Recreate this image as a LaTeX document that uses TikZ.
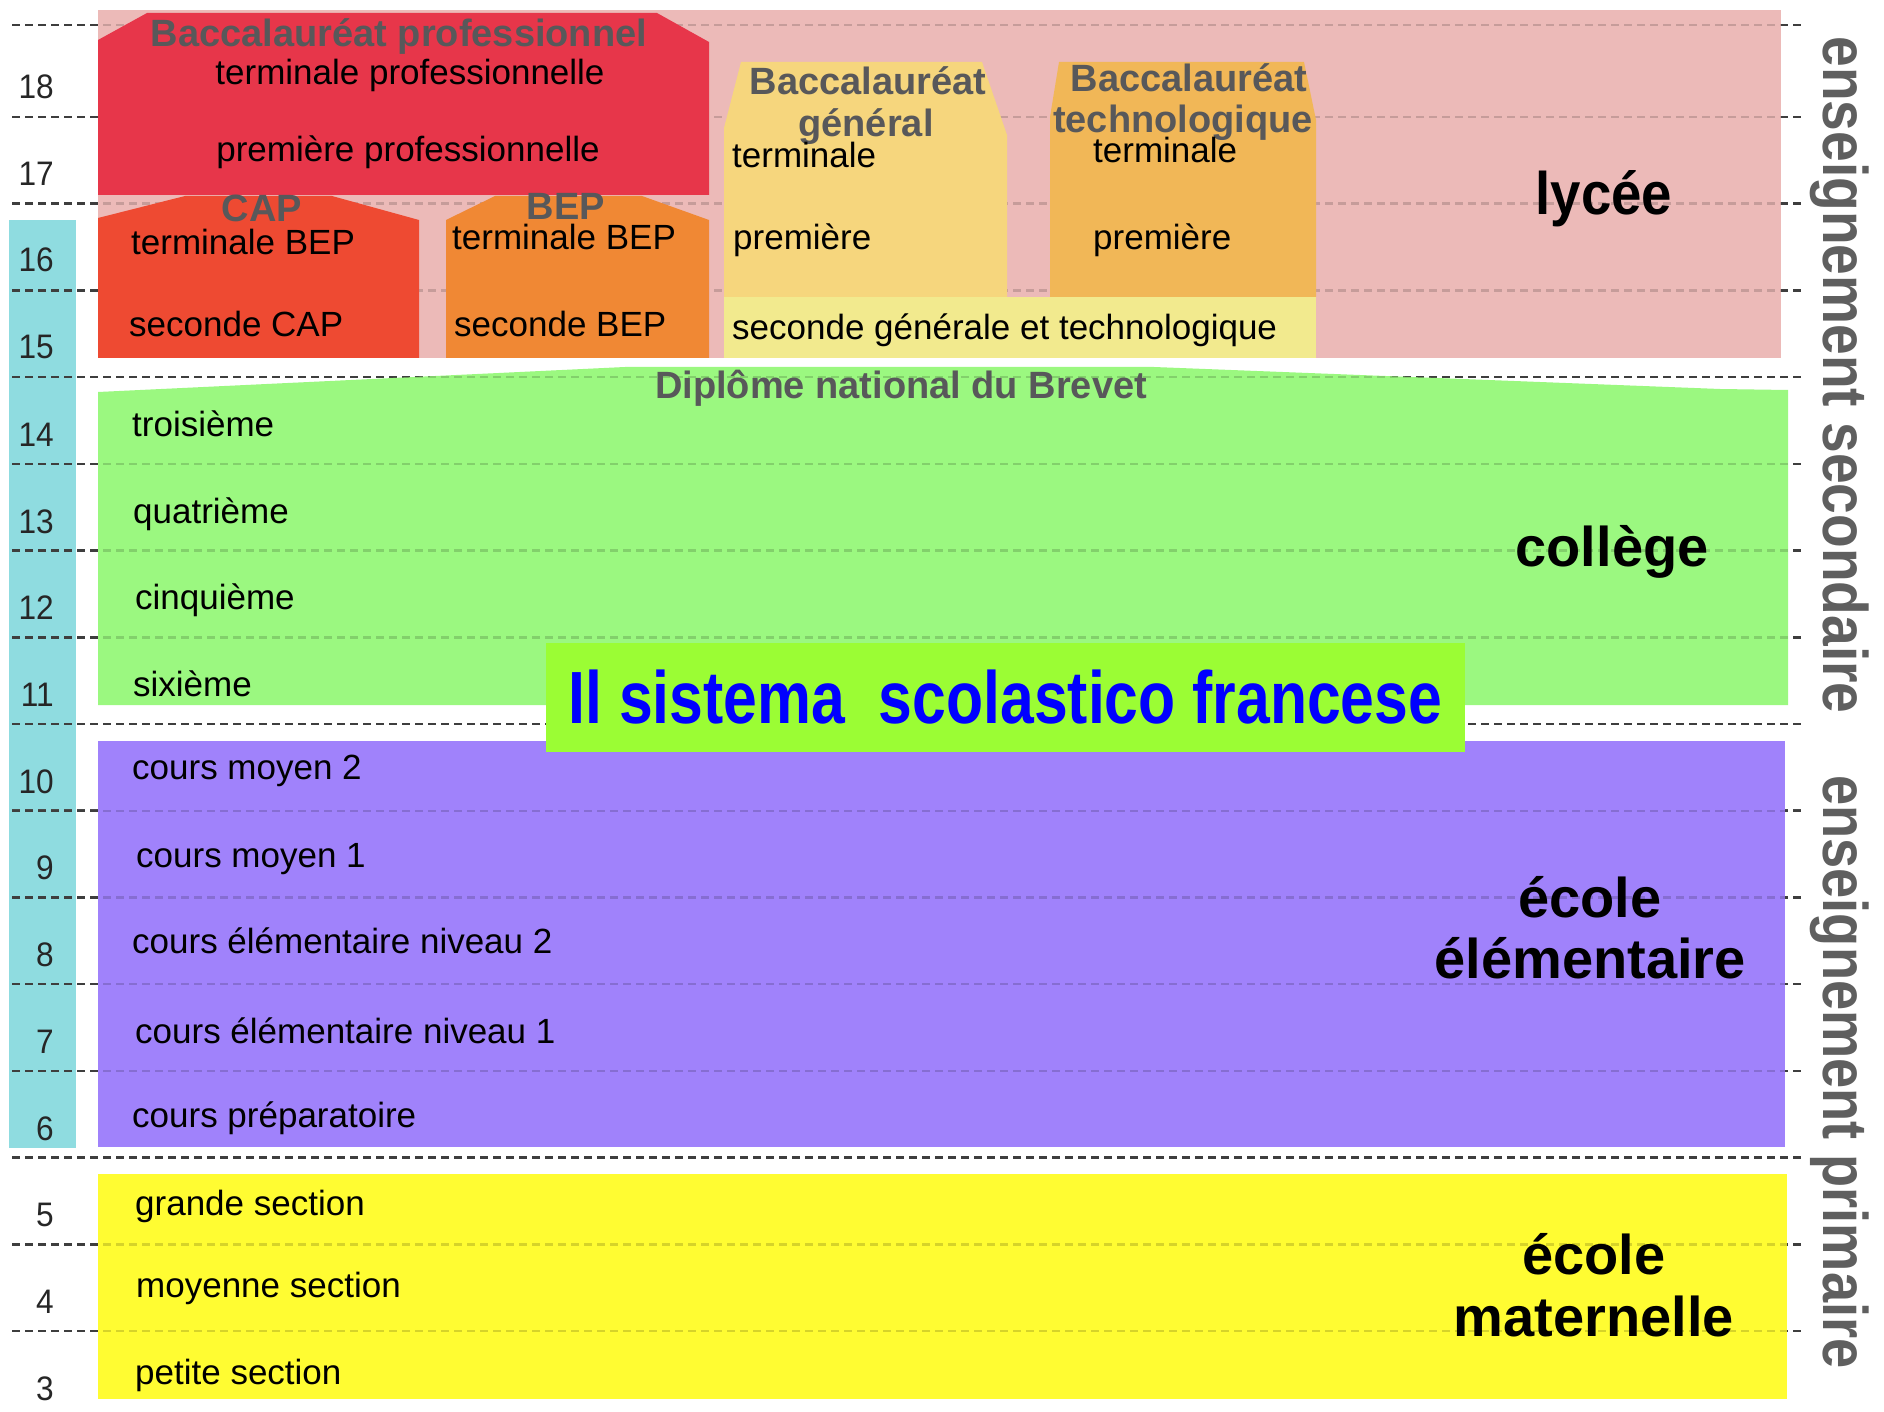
\documentclass[tikz,border=0pt]{standalone}
\usepackage{fontspec}
\setmainfont{Liberation Sans}
\usepackage{graphicx}
\definecolor{pinkbg}{RGB}{236,186,184}
\definecolor{bacpro}{RGB}{231,54,74}
\definecolor{capc}{RGB}{238,74,50}
\definecolor{bepc}{RGB}{240,136,52}
\definecolor{bacgen}{RGB}{246,214,125}
\definecolor{bactec}{RGB}{241,183,87}
\definecolor{secgt}{RGB}{242,234,142}
\definecolor{collc}{RGB}{155,248,128}
\definecolor{elemc}{RGB}{160,130,251}
\definecolor{matc}{RGB}{255,252,50}
\definecolor{agebar}{RGB}{143,220,224}
\definecolor{titlec}{RGB}{155,253,52}
\definecolor{headgray}{RGB}{88,88,90}
\definecolor{dashc}{RGB}{75,75,75}
\definecolor{vgray}{RGB}{95,95,95}
\newcommand\myfs[1]{\fontsize{#1}{#1}\selectfont}
\newcommand\sx[2]{\scalebox{#1}[1]{#2}}
\begin{document}
\begin{tikzpicture}[x=1pt,y=-1pt,
  dashline/.style={draw=dashc, line width=2.6pt, dash pattern=on 8pt off 5pt},
  lightdash/.style={draw=black, draw opacity=0.16, line width=2.4pt, dash pattern=on 8pt off 5pt},
  body/.style={font=\myfs{35}, text=black, inner sep=0pt, anchor=base west},
  bodyc/.style={body, anchor=base},
  head/.style={font=\myfs{38}\bfseries, text=headgray, inner sep=0pt, anchor=base},
  age/.style={font=\myfs{34}, text=black!85, inner sep=0pt, anchor=base east},
  big/.style={font=\myfs{56}\bfseries, text=black, inner sep=0pt, anchor=base},
  vert/.style={rotate=-90, font=\myfs{63}\bfseries, text=vgray, inner sep=0pt},
  titlebox/.style={fill=titlec, text=blue, font=\myfs{74}\bfseries, inner sep=0pt,
    minimum width=919pt, minimum height=109pt}
]
\useasboundingbox (0,0) rectangle (1884,1412);
\fill[white] (0,0) rectangle (1884,1412);
\def\ylines{25,117,203.7,290.4,377.1,463.9,550.6,637.3,724,810.7,897.4,984.1,1070.8,1157.6,1244.3,1331}
% age bar
\fill[agebar] (9,220) rectangle (76,1148);
% dark dashed lines
\foreach \y in \ylines {\draw[dashline] (12,\y) -- (1802,\y);}
% lycee background
\fill[pinkbg] (98,10) rectangle (1781,358);
\foreach \y in {25,117,203.7,290.4} {\draw[lightdash] (12,\y) -- (1802,\y);}
% lycee tracks
\fill[bacpro] (98,195) -- (98,40) -- (147,13) -- (657,13) -- (709,42) -- (709,195) -- cycle;
\fill[capc] (98,358) -- (98,218) -- (185,196) -- (332,196) -- (419,220) -- (419,358) -- cycle;
\fill[bepc] (446,358) -- (446,220) -- (495,196) -- (642,196) -- (709,220) -- (709,358) -- cycle;
\fill[bacgen] (724,297) -- (724,128) -- (741,62) -- (982,62) -- (1007,135) -- (1007,297) -- cycle;
\fill[bactec] (1050,297) -- (1050,117) -- (1059,62) -- (1304,62) -- (1316,120) -- (1316,297) -- cycle;
\fill[secgt] (724,297) rectangle (1316,358);
% college, elementaire, maternelle
\fill[collc] (98,392) -- (625,367) -- (1154,367) -- (1720,389) -- (1788,390) -- (1788,705) -- (98,705) -- cycle;
\fill[elemc] (98,741) rectangle (1785,1147);
\fill[matc] (98,1174) rectangle (1787,1399);
\foreach \y in {377.1,463.9,550.6,637.3,724,810.7,897.4,984.1,1070.8,1157.6,1244.3,1331} {\draw[lightdash] (12,\y) -- (1802,\y);}
% ages
\foreach \a/\b in {18/99,17/186,16/272,15/359,14/446,13/533,12/619,11/706,10/793,9/879,8/966,7/1053,6/1140,5/1226,4/1313,3/1400}
  {\node[age] (age\a) at (54,\b) {\sx{0.93}{\a}};}
% lycee texts
\node[head] (bpT) at (399,47) {Baccalauréat professionnel};
\node[bodyc] (bpt) at (410,85) {terminale professionnelle};
\node[bodyc] (bpp) at (408,162) {première professionnelle};
\node[head] (capT) at (262,222) {CAP};
\node[body] (capt) at (131,255) {terminale BEP};
\node[body] (caps) at (129,337) {seconde CAP};
\node[head] (bepT) at (566,220) {BEP};
\node[body] (bept) at (452,250) {terminale BEP};
\node[body] (beps) at (454,337) {seconde BEP};
\node[head] (bgT1) at (868,95) {Baccalauréat};
\node[head] (bgT2) at (866,137) {général};
\node[body] (bgt) at (732,168) {terminale};
\node[body] (bgp) at (733,250) {première};
\node[head] (btT1) at (1189,92) {Baccalauréat};
\node[head] (btT2) at (1183,133) {technologique};
\node[body] (btt) at (1093,163) {terminale};
\node[body] (btp) at (1093,250) {première};
\node[body] (sgt) at (732,340) {seconde générale et technologique};
\node[big, font=\myfs{60}\bfseries] (lyc) at (1604,215) {\sx{0.91}{lycée}};
% college
\node[head] (dnb) at (901,399) {Diplôme national du Brevet};
\node[body] (c3) at (132,436) {troisième};
\node[body] (c4) at (133,523) {quatrième};
\node[body] (c5) at (135,609) {cinquième};
\node[body] (c6) at (133,696) {sixième};
\node[big] (col) at (1612,566) {collège};
% elementaire
\node[body] (cm2) at (132,779) {cours moyen 2};
\node[body] (cm1) at (136,867) {cours moyen 1};
\node[body] (ce2) at (132,953) {cours élémentaire niveau 2};
\node[body] (ce1) at (135,1043) {cours élémentaire niveau 1};
\node[body] (cp) at (132,1127) {cours préparatoire};
\node[big] (el1) at (1590,917) {école};
\node[big] (el2) at (1590,978) {élémentaire};
% maternelle
\node[body] (gs) at (135,1215) {grande section};
\node[body] (ms) at (136,1297) {moyenne section};
\node[body] (ps) at (135,1384) {petite section};
\node[big] (ma1) at (1594,1274) {école};
\node[big] (ma2) at (1594,1336) {maternelle};
% side labels
\node[vert] (es) at (1840,375) {\sx{0.875}{enseignement secondaire}};
\node[vert] (ep) at (1840,1072) {\sx{0.86}{enseignement primaire}};
% title
\node[titlebox] (title) at (1005.5,697.5) {\sx{0.82}{Il sistema\ \ scolastico francese}};
\end{tikzpicture}
\end{document}
